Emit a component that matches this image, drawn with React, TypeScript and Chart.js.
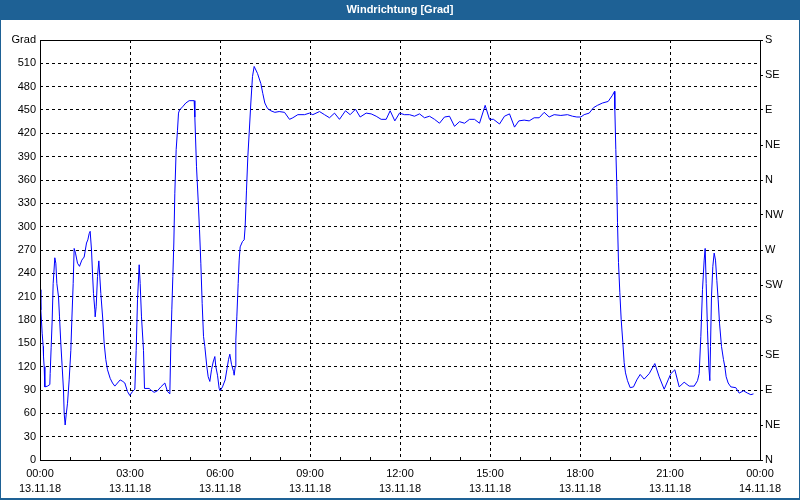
import React, { useEffect, useRef } from "react";
import { Chart, registerables } from "chart.js";

Chart.register(...registerables);

const chartTitle = "Windrichtung [Grad]";

// hours since 13.11.18 00:00
const times: number[] = [
  0.0, 0.028, 0.072, 0.106, 0.117, 0.139, 0.161, 0.25, 0.328, 0.339, 0.372, 0.406, 0.439, 0.494, 0.528, 0.561,
  0.617, 0.65, 0.694, 0.739, 0.783, 0.806, 0.839, 0.872, 0.917, 0.972, 1.028, 1.061, 1.106, 1.139, 1.183, 1.25,
  1.317, 1.394, 1.472, 1.55, 1.594, 1.639, 1.672, 1.717, 1.75, 1.783, 1.828, 1.839, 1.872, 1.917, 1.961, 2.028,
  2.094, 2.139, 2.194, 2.25, 2.339, 2.417, 2.494, 2.583, 2.672, 2.761, 2.828, 2.917, 2.994, 3.083, 3.161, 3.206,
  3.25, 3.306, 3.339, 3.383, 3.45, 3.483, 3.639, 3.694, 3.806, 3.917, 4.028, 4.161, 4.25, 4.328, 4.361, 4.394,
  4.428, 4.461, 4.494, 4.539, 4.583, 4.617, 4.65, 4.75, 4.861, 4.972, 5.139, 5.161, 5.217, 5.272, 5.317, 5.361,
  5.406, 5.45, 5.494, 5.561, 5.606, 5.661, 5.717, 5.772, 5.828, 5.861, 5.917, 5.972, 6.006, 6.083, 6.172, 6.228,
  6.283, 6.328, 6.383, 6.45, 6.472, 6.506, 6.528, 6.561, 6.606, 6.639, 6.672, 6.75, 6.806, 6.839, 6.883, 6.928,
  6.972, 7.028, 7.083, 7.139, 7.25, 7.361, 7.428, 7.494, 7.583, 7.694, 7.828, 7.972, 8.15, 8.317, 8.428, 8.594,
  8.817, 8.983, 9.094, 9.317, 9.483, 9.65, 9.817, 9.983, 10.183, 10.339, 10.517, 10.672, 10.872, 11.039, 11.206, 11.372,
  11.539, 11.672, 11.828, 11.983, 12.15, 12.317, 12.483, 12.65, 12.817, 12.983, 13.15, 13.317, 13.483, 13.65, 13.817, 13.983,
  14.15, 14.317, 14.483, 14.65, 14.839, 14.983, 15.117, 15.317, 15.483, 15.65, 15.817, 15.961, 16.139, 16.306, 16.472, 16.639,
  16.806, 16.972, 17.139, 17.361, 17.583, 17.75, 17.894, 18.028, 18.139, 18.306, 18.45, 18.583, 18.75, 18.939, 19.083, 19.15,
  19.161, 19.194, 19.228, 19.25, 19.283, 19.328, 19.372, 19.428, 19.472, 19.517, 19.583, 19.672, 19.783, 19.894, 20.006, 20.139,
  20.306, 20.494, 20.639, 20.806, 20.939, 21.028, 21.161, 21.306, 21.472, 21.639, 21.806, 21.917, 21.972, 22.028, 22.083, 22.139,
  22.172, 22.206, 22.25, 22.294, 22.328, 22.35, 22.383, 22.428, 22.472, 22.517, 22.561, 22.606, 22.65, 22.717, 22.783, 22.828,
  22.872, 22.939, 23.028, 23.194, 23.306, 23.45, 23.583, 23.694, 23.783,
];

// wind direction in degrees
const directions: number[] = [
  219, 193, 163, 146, 133, 120, 94, 95, 97, 111, 145, 180, 227, 260, 253, 227,
  210, 184, 150, 120, 90, 60, 45, 58, 73, 103, 141, 180, 227, 272, 266, 253,
  249, 257, 261, 279, 283, 291, 294, 270, 240, 214, 193, 184, 197, 236, 256, 214,
  180, 150, 129, 116, 105, 99, 95, 99, 103, 101, 99, 88, 83, 88, 91, 141,
  206, 251, 227, 184, 141, 92, 92, 90, 87, 89, 94, 99, 88, 85, 150, 193,
  236, 279, 343, 399, 424, 446, 450, 454, 459, 462, 462, 441, 377, 334, 296, 253,
  201, 159, 146, 120, 107, 101, 116, 126, 133, 120, 109, 92, 89, 94, 103, 116,
  129, 136, 123, 114, 109, 120, 154, 184, 227, 257, 274, 281, 283, 300, 347, 390,
  420, 459, 493, 506, 497, 484, 471, 459, 452, 449, 447, 448, 447, 438, 440, 444,
  444, 446, 444, 448, 444, 440, 446, 438, 449, 444, 451, 441, 446, 445, 442, 438,
  438, 449, 436, 446, 444, 444, 442, 445, 440, 442, 438, 433, 441, 442, 429, 435,
  433, 438, 438, 433, 456, 438, 438, 432, 442, 445, 428, 436, 437, 436, 440, 440,
  447, 441, 444, 443, 444, 442, 441, 441, 444, 446, 453, 456, 459, 461, 469, 474,
  451, 399, 352, 305, 254, 215, 181, 151, 125, 112, 102, 93, 94, 103, 110, 104,
  111, 124, 107, 91, 103, 111, 116, 94, 100, 95, 95, 102, 111, 159, 219, 257,
  272, 227, 167, 120, 102, 146, 210, 249, 266, 257, 231, 206, 176, 146, 129, 120,
  107, 99, 94, 93, 86, 89, 86, 84, 85,
];

const leftTickLabels: string[] = [
  "0", "30", "60", "90", "120", "150", "180", "210", "240", "270",
  "300", "330", "360", "390", "420", "450", "480", "510", "Grad",
];
const compassLabels: string[] = ["N", "NE", "E", "SE", "S", "SW", "W", "NW", "N", "NE", "E", "SE", "S"];
const xTimeLabels: string[] = ["00:00", "03:00", "06:00", "09:00", "12:00", "15:00", "18:00", "21:00", "00:00"];
const xDateLabels: string[] = [
  "13.11.18", "13.11.18", "13.11.18", "13.11.18", "13.11.18", "13.11.18", "13.11.18", "13.11.18", "14.11.18",
];
const minorTickHours: number[] = [1, 2, 4, 5, 7, 8, 10, 11, 13, 14, 16, 17, 19, 20, 22, 23];

const BAR_BLUE = "#1e6195";

const framePlugin = {
  id: "frame",
  beforeDraw(chart: any) {
    const { ctx, width, height } = chart;
    ctx.save();
    ctx.fillStyle = "#ffffff";
    ctx.fillRect(0, 0, width, height);
    ctx.fillStyle = BAR_BLUE;
    ctx.fillRect(0, 0, width, 20);
    ctx.restore();
  },
  afterDraw(chart: any) {
    const { ctx, chartArea, width, height } = chart;
    const x = chart.scales.x;
    ctx.save();
    ctx.strokeStyle = "#000000";
    ctx.lineWidth = 1;
    ctx.setLineDash([]);
    const l = Math.round(chartArea.left) + 0.5;
    const r = Math.round(chartArea.right) + 0.5;
    const t = Math.round(chartArea.top) + 0.5;
    const b = Math.round(chartArea.bottom) + 0.5;
    ctx.strokeRect(l, t, r - l, b - t);
    ctx.beginPath();
    for (const h of minorTickHours) {
      const px = Math.round(x.getPixelForValue(h)) + 0.5;
      ctx.moveTo(px, b);
      ctx.lineTo(px, b - 3.5);
    }
    ctx.stroke();
    ctx.strokeStyle = BAR_BLUE;
    ctx.beginPath();
    ctx.moveTo(0.5, 0);
    ctx.lineTo(0.5, height - 0.5);
    ctx.lineTo(width - 0.5, height - 0.5);
    ctx.lineTo(width - 0.5, 0);
    ctx.stroke();
    ctx.fillStyle = BAR_BLUE;
    ctx.fillRect(0, height - 2, width, 2);
    ctx.restore();
  },
};

export default function App() {
  const canvasRef = useRef<HTMLCanvasElement | null>(null);

  useEffect(() => {
    const canvas = canvasRef.current;
    if (!canvas) return;
    Chart.defaults.font.family = '"Liberation Sans", Arial, sans-serif';
    Chart.defaults.font.size = 11;
    Chart.defaults.color = "#000000";

    const points = times.map((t, i) => ({ x: t, y: directions[i] }));

    const chart = new Chart(canvas, {
      type: "line",
      data: {
        datasets: [
          {
            label: chartTitle,
            data: points,
            borderColor: "#0000ff",
            backgroundColor: "#0000ff",
            borderWidth: 1,
            pointRadius: 0,
            tension: 0,
            fill: false,
            yAxisID: "y",
          },
        ],
      },
      options: {
        animation: false,
        responsive: false,
        devicePixelRatio: 1,
        events: [],
        layout: { padding: 0 },
        plugins: {
          legend: { display: false },
          tooltip: { enabled: false },
          title: {
            display: true,
            text: chartTitle,
            color: "#ffffff",
            font: { size: 11, weight: "bold", lineHeight: "12px" },
            padding: { top: 4, bottom: 24 },
          },
        },
        scales: {
          x: {
            type: "linear",
            min: 0,
            max: 24,
            afterFit: (s: any) => {
              s.height = 40;
            },
            ticks: {
              stepSize: 3,
              autoSkip: false,
              maxRotation: 0,
              padding: 6,
              font: { size: 11, lineHeight: "15px" },
              callback: (_v: any, i: number) => [xTimeLabels[i], xDateLabels[i]],
            },
            grid: { color: "#000000", lineWidth: 1, drawTicks: false },
            border: { display: false, dash: [3, 3] },
          },
          y: {
            position: "left",
            min: 0,
            max: 540,
            afterFit: (s: any) => {
              s.width = 40;
            },
            ticks: {
              stepSize: 30,
              autoSkip: false,
              padding: 4,
              callback: (_v: any, i: number) => leftTickLabels[i],
            },
            grid: { color: "#000000", lineWidth: 1, drawTicks: false },
            border: { display: false, dash: [3, 3] },
          },
          y2: {
            position: "right",
            min: 0,
            max: 540,
            afterFit: (s: any) => {
              s.width = 40;
            },
            ticks: {
              stepSize: 45,
              autoSkip: false,
              padding: 2,
              callback: (_v: any, i: number) => compassLabels[i],
            },
            grid: {
              drawOnChartArea: false,
              drawTicks: true,
              tickLength: 3,
              color: "#000000",
              tickColor: "#000000",
            },
            border: { display: false },
          },
        },
      },
      plugins: [framePlugin],
    });

    return () => {
      chart.destroy();
    };
  }, []);

  return (
    <div style={{ position: "fixed", left: 0, top: 0, width: 800, height: 500, background: "#ffffff" }}>
      <canvas ref={canvasRef} width={800} height={500} style={{ width: 800, height: 500, display: "block" }} />
    </div>
  );
}
